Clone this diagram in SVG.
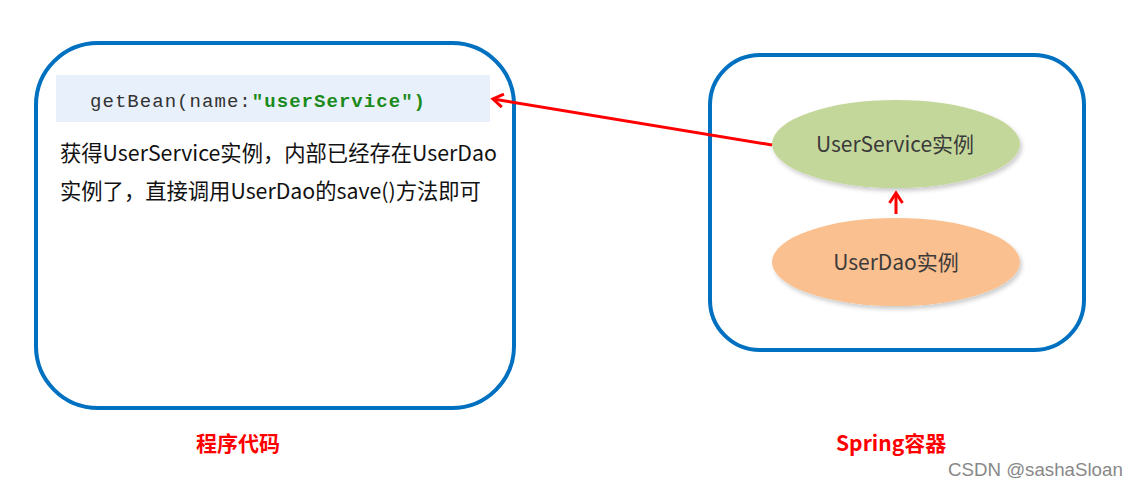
<svg xmlns="http://www.w3.org/2000/svg" width="1137" height="487" viewBox="0 0 1137 487">
<defs>
<style>
.box{fill:#fff;stroke:#0070C0;stroke-width:4}
.cn{font-family:"Noto Sans CJK SC","Noto Sans",sans-serif;}
.red{stroke:#FF0000;stroke-width:3;fill:none}
</style>
<marker id="ah" viewBox="0 0 16 16" refX="13" refY="8" markerWidth="16" markerHeight="16" markerUnits="userSpaceOnUse" orient="auto">
<path d="M3,1.5 L13,8 L3,14.5" fill="none" stroke="#FF0000" stroke-width="3"/>
</marker>
<filter id="sh" x="-10%" y="-10%" width="125%" height="130%">
<feDropShadow dx="2" dy="3" stdDeviation="2" flood-color="#000" flood-opacity="0.2"/>
</filter>
</defs>
<rect width="1137" height="487" fill="#fff"/>
<g id="code-box">
<rect class="box" x="36" y="43" width="478" height="365" rx="62"/>
<rect x="56" y="75" width="434" height="47" fill="#E8F0FC"/>
<text x="90" y="107" font-family="'Liberation Mono',monospace" font-size="19" fill="#333" textLength="335" lengthAdjust="spacing">getBean(name:<tspan fill="#1A8A1A" font-weight="bold">"userService")</tspan></text>
<text class="cn" x="60" y="161" font-size="21.3" fill="#111">获得UserService实例，内部已经存在UserDao</text>
<text class="cn" x="60" y="199" font-size="21.3" fill="#111">实例了，直接调用UserDao的save()方法即可</text>
</g>
<g id="spring-box">
<rect class="box" x="710" y="55" width="374" height="295" rx="50"/>
</g>
<g id="userservice">
<ellipse cx="896" cy="144" rx="124" ry="44" fill="#C4D79B" filter="url(#sh)"/>
<text class="cn" x="895" y="152" font-size="21" fill="#3a3a3a" text-anchor="middle">UserService实例</text>
</g>
<g id="userdao">
<ellipse cx="896" cy="262" rx="124" ry="44" fill="#FAC090" filter="url(#sh)"/>
<text class="cn" x="896" y="270" font-size="21" fill="#3a3a3a" text-anchor="middle">UserDao实例</text>
</g>
<g id="connectors">
<line class="red" x1="772" y1="145" x2="493" y2="99" marker-end="url(#ah)"/>
<line class="red" x1="896" y1="214" x2="896" y2="193" marker-end="url(#ah)"/>
</g>
<g id="labels">
<text class="cn" x="238" y="451" font-size="21" font-weight="bold" fill="#FF0000" text-anchor="middle">程序代码</text>
<text class="cn" x="836" y="451" font-size="21" font-weight="bold" fill="#FF0000">Spring容器</text>
<text x="948" y="476" font-family="'Liberation Sans',sans-serif" font-size="18.7" fill="#888">CSDN @sashaSloan</text>
</g>
</svg>
